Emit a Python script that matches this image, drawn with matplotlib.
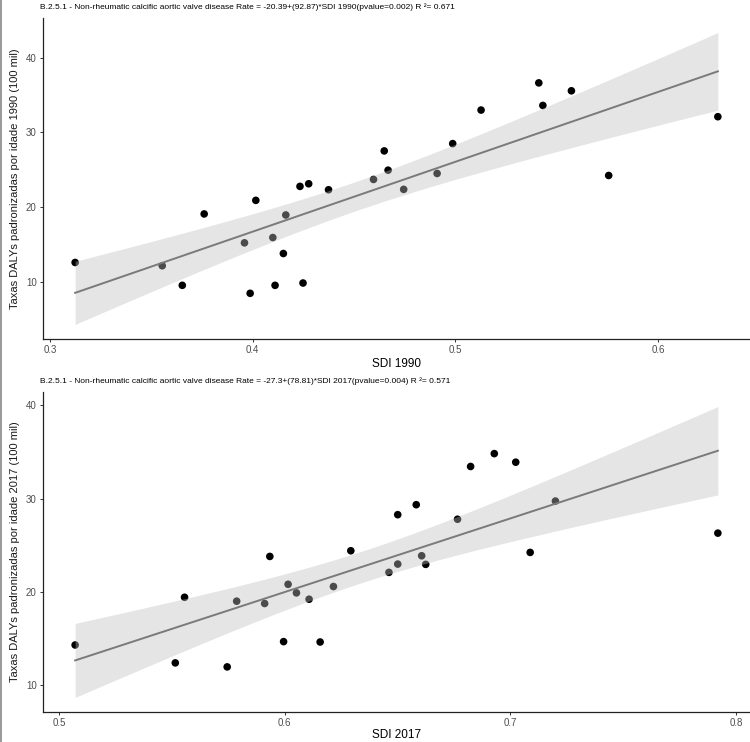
import numpy as np
import matplotlib
matplotlib.use("Agg")
import matplotlib.pyplot as plt
from matplotlib.lines import Line2D

plt.rcParams['font.family'] = ['Liberation Sans', 'DejaVu Sans']

# ---- data ----
sdi_1990 = [0.3123, 0.3553, 0.3652, 0.3760, 0.3959, 0.3987, 0.4015, 0.4099, 0.4110,
            0.4151, 0.4163, 0.4233, 0.4248, 0.4276, 0.4374, 0.4596, 0.4649, 0.4668,
            0.4745, 0.4910, 0.4987, 0.5127, 0.5412, 0.5432, 0.5573, 0.5757, 0.6296]
rate_1990 = [12.57, 12.13, 9.51, 19.07, 15.20, 8.44, 20.89, 15.91, 9.51,
             13.77, 18.93, 22.76, 9.82, 23.11, 22.31, 23.69, 27.51, 24.93,
             22.36, 24.49, 28.49, 32.98, 36.62, 33.60, 35.56, 24.22, 32.09]

sdi_2017 = [0.5071, 0.5515, 0.5556, 0.5745, 0.5787, 0.5911, 0.5934, 0.5995, 0.6015,
            0.6052, 0.6108, 0.6157, 0.6216, 0.6293, 0.6462, 0.6501, 0.6501, 0.6583,
            0.6607, 0.6625, 0.6766, 0.6824, 0.6929, 0.7024, 0.7088, 0.7200, 0.7920]
rate_2017 = [14.30, 12.38, 19.42, 11.95, 19.00, 18.75, 23.80, 14.66, 20.81,
             19.89, 19.21, 14.62, 20.57, 24.41, 22.09, 28.28, 22.98, 29.35,
             23.87, 22.95, 27.79, 33.45, 34.83, 33.91, 24.23, 29.74, 26.30]

titles = [
    "B.2.5.1 - Non-rheumatic calcific aortic valve disease Rate = -20.39+(92.87)*SDI 1990(pvalue=0.002) R \u00b2= 0.671",
    "B.2.5.1 - Non-rheumatic calcific aortic valve disease Rate = -27.3+(78.81)*SDI 2017(pvalue=0.004) R \u00b2= 0.571",
]
xlabels = ["SDI 1990", "SDI 2017"]
ylabels = ["Taxas DALYs padronizadas por idade 1990 (100 mil)",
           "Taxas DALYs padronizadas por idade 2017 (100 mil)"]
xticks = [[0.3, 0.4, 0.5, 0.6], [0.5, 0.6, 0.7, 0.8]]
yticks = [[10, 20, 30, 40], [10, 20, 30, 40]]

W, H = 750, 742
fig = plt.figure(figsize=(W / 100, H / 100), dpi=100)

T975 = 2.0595  # t quantile, df = 25


def fit_band(x, y, n_grid=80):
    x = np.asarray(x); y = np.asarray(y)
    n = len(x)
    b, a = np.polyfit(x, y, 1)
    res = y - (a + b * x)
    s = np.sqrt(np.sum(res ** 2) / (n - 2))
    xm = x.mean(); sxx = np.sum((x - xm) ** 2)
    g = np.linspace(x.min(), x.max(), n_grid)
    yh = a + b * g
    se = s * np.sqrt(1 / n + (g - xm) ** 2 / sxx)
    return g, yh, yh - T975 * se, yh + T975 * se


# panel boxes in pixels: (left, top, right, bottom)
boxes = [(43, 18, 750, 339), (43, 392, 750, 712)]
datasets = [(sdi_1990, rate_1990), (sdi_2017, rate_2017)]
title_y = [7, 381]
xlabelpads = [2, 0.5]

for i, ((x, y), box) in enumerate(zip(datasets, boxes)):
    l, t, r, b = box
    ax = fig.add_axes([l / W, 1 - b / H, (r - l) / W, (b - t) / H])
    g, yh, lo, hi = fit_band(x, y)
    ax.scatter(x, y, s=30, color='black', edgecolors='none', zorder=2)
    ax.fill_between(g, lo, hi, color='#bebebe', alpha=0.4, linewidth=0, zorder=3)
    ax.plot(g, yh, color='#7a7a7a', linewidth=1.4, zorder=4)

    xmin, xmax = min(x), max(x)
    dx = (xmax - xmin) * 0.05
    ymin = min(min(y), lo.min()); ymax = max(max(y), hi.max())
    dy = (ymax - ymin) * 0.05
    ax.set_xlim(xmin - dx, xmax + dx)
    ax.set_ylim(ymin - dy, ymax + dy)

    ax.set_xticks(xticks[i])
    ax.set_xticklabels([f"{v:g}" for v in xticks[i]])
    ax.set_yticks(yticks[i])
    for s_ in ['top', 'right']:
        ax.spines[s_].set_visible(False)
    for s_ in ['left', 'bottom']:
        ax.spines[s_].set_color('#222222')
        ax.spines[s_].set_linewidth(0.9)
    ax.tick_params(axis='both', length=2.5, width=0.7, color='#333333',
                   labelsize=7, labelcolor='#4d4d4d', pad=2)
    ax.set_xlabel(xlabels[i], fontsize=8.5, color='black', labelpad=xlabelpads[i])
    ax.set_ylabel(ylabels[i], fontsize=8, color='#1a1a1a', labelpad=4)

    fig.text(40 / W, 1 - title_y[i] / H, titles[i], fontsize=6, color='black',
             ha='left', va='center')

# left border line
fig.add_artist(Line2D([0.6 / W, 0.6 / W], [0, 1], color='#888888', linewidth=1.2,
                      transform=fig.transFigure))

fig.savefig("out.png", dpi=100)
